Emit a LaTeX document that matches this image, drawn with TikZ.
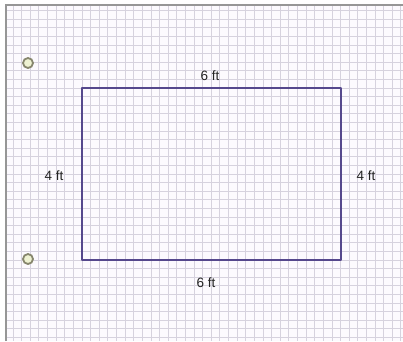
\documentclass[tikz,border=0pt]{standalone}
\usepackage{fontspec}
\setmainfont{Liberation Sans}
\definecolor{gridc}{RGB}{214,210,222}
\definecolor{bgc}{RGB}{252,250,254}
\definecolor{txtc}{RGB}{35,35,35}
\definecolor{pinc}{RGB}{135,135,110}
\definecolor{pinf}{RGB}{238,242,210}
\definecolor{shapec}{RGB}{85,72,140}
\definecolor{borderc}{RGB}{150,150,150}
\begin{document}
\begin{tikzpicture}[x=1pt,y=-1pt,
  gridline/.style={draw=gridc,line width=0.9pt},
  lbl/.style={font=\fontsize{13.5}{15}\selectfont,text=txtc,inner sep=0pt},
  pin/.style={circle,draw=pinc,fill=pinf,line width=1.8pt,minimum size=10pt,inner sep=0pt},
  shapeline/.style={draw=shapec,line width=1.9pt,line join=round}]
\useasboundingbox (0,0) rectangle (403,341);
\fill[bgc] (0,0) rectangle (403,341);
\foreach \i in {-9,...,38} {
  \draw[gridline] ({82+\i*8.62},5) -- ({82+\i*8.62},341);
}
\foreach \j in {-10,...,30} {
  \draw[gridline] (6,{88+\j*8.6}) -- (403,{88+\j*8.6});
}
\fill[white] (0,0) rectangle (403,4);
\fill[white] (0,0) rectangle (5,341);
\draw[borderc,line width=1.5pt] (6,341) -- (6,5) -- (403,5);
\coordinate (tl) at (82,88);
\coordinate (tr) at (341,88);
\coordinate (br) at (341,260);
\coordinate (bl) at (82,260);
\draw[shapeline] (tl) -- (tr) -- (br) -- (bl) -- cycle;
\node[pin] (p1) at (28,63) {};
\node[pin] (p2) at (28,259) {};
\node[lbl] (top) at (210,76) {6 ft};
\node[lbl] (bot) at (206,283) {6 ft};
\node[lbl] (lft) at (54,176) {4 ft};
\node[lbl] (rgt) at (366,176) {4 ft};
\end{tikzpicture}
\end{document}
